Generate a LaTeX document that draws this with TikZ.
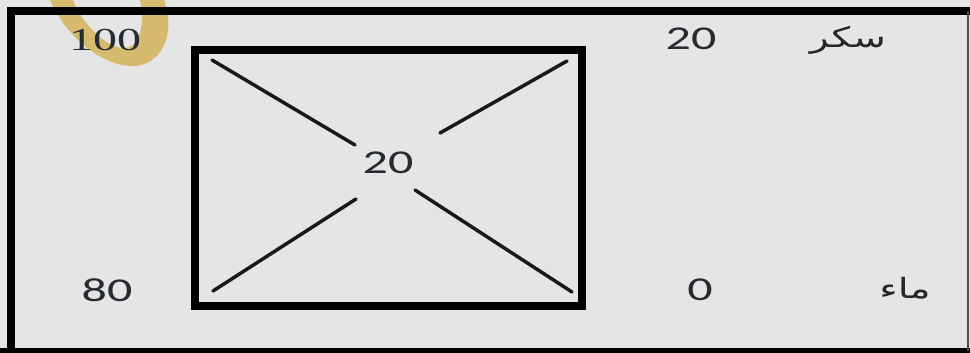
\documentclass[tikz,border=0pt]{standalone}
\usepackage{fontspec}
\TeXXeTstate=1
\newfontfamily\numfont[FakeStretch=1.5]{Carlito}
\newfontfamily\serfont[FakeStretch=1.5]{Liberation Serif}
\newfontfamily\arabicfont[Script=Arabic,FakeStretch=1.4]{DejaVu Sans}
\definecolor{bgcol}{HTML}{E5E5E5}
\definecolor{numcol}{HTML}{262B32}
\definecolor{gold}{HTML}{D6BA6E}
\begin{document}
\begin{tikzpicture}[x=0.75pt,y=-0.75pt,
  num/.style={font=\numfont\fontsize{25}{25}\selectfont, text=numcol, inner sep=0pt},
  sernum/.style={font=\serfont\fontsize{24}{24}\selectfont, text=numcol, inner sep=0pt},
  arab/.style={font=\arabicfont\fontsize{21}{21}\selectfont, text=black!85, inner sep=0pt},
  diag/.style={line width=2.6pt, line cap=round, black!90},
  boxstyle/.style={draw=black, line width=6pt, minimum width=290.25pt, minimum height=192pt, inner sep=0pt}]
\useasboundingbox (0,0) rectangle (970,353);
\fill[bgcol] (0,0) rectangle (970,353);
% decorative crescent
\fill[gold] (50,0) .. controls (68,40) and (105,68) .. (136,66)
  .. controls (168,62) and (174,25) .. (164,0)
  -- (140,0) .. controls (146,28) and (138,50) .. (122,48)
  .. controls (102,45) and (82,22) .. (73,0) -- cycle;
% outer frame
\draw[line width=5.5pt, black] (11,353) -- (11,11) -- (970,11);
\draw[line width=5pt, black] (0,351) -- (970,351);
\draw[line width=1.5pt, black!70] (967.5,11) -- (967.5,351);
% inner box
\node[boxstyle] (box) at (388.5,178) {};
% diagonals
\coordinate (tl) at (212,60);
\coordinate (tlc) at (355,145);
\coordinate (trc) at (440,133);
\coordinate (tr) at (567,61);
\coordinate (bl) at (213,291);
\coordinate (blc) at (356,199);
\coordinate (brc) at (415,190);
\coordinate (br) at (572,292);
\draw[diag] (tl) -- (tlc);
\draw[diag] (trc) -- (tr);
\draw[diag] (bl) -- (blc);
\draw[diag] (brc) -- (br);
% texts
\node[num] (center) at (388,163) {20};
\node[sernum] (hundred) at (105,40) {100};
\node[num] (eighty) at (107,290) {80};
\node[num] (twenty) at (691,39) {20};
\node[num] (zero) at (700,290) {0};
\node[arab] (sugar) at (848,40) {\beginR سكر\endR};
\node[arab] (water) at (905,288) {\beginR ماء\endR};
\end{tikzpicture}
\end{document}
